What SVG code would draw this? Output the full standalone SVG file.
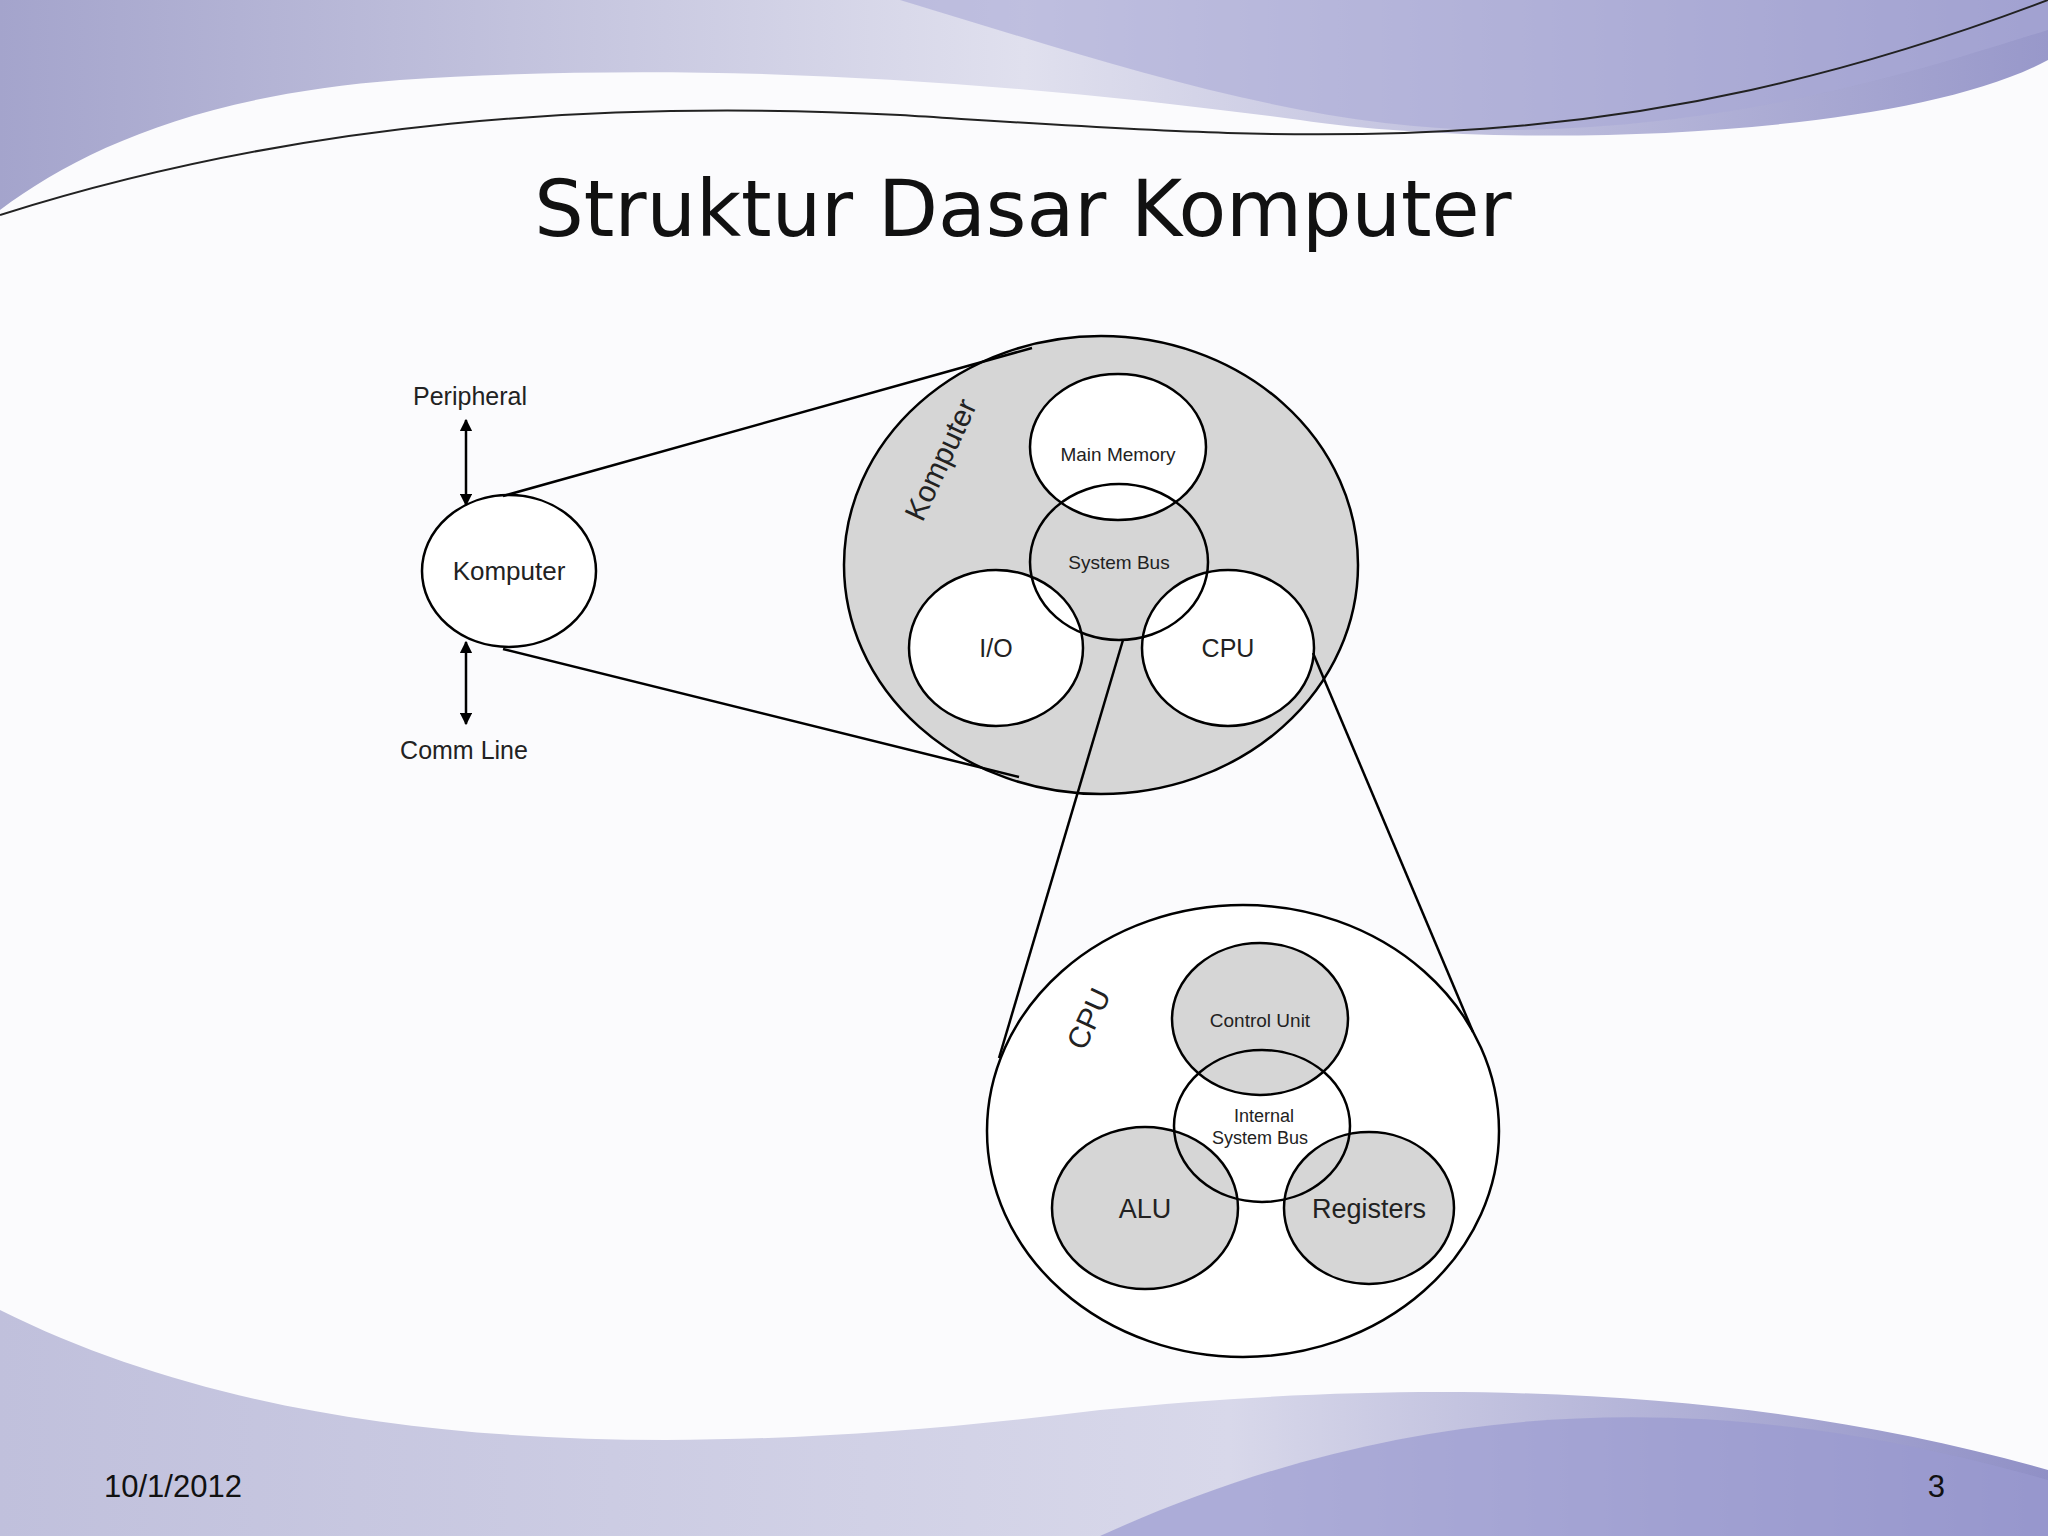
<svg xmlns="http://www.w3.org/2000/svg" width="2048" height="1536" viewBox="0 0 2048 1536">
<defs>
<linearGradient id="top" x1="0" y1="0" x2="1" y2="0"><stop offset="0" stop-color="#a4a4cc"/><stop offset="0.5" stop-color="#e0e0ee"/><stop offset="1" stop-color="#9898ca"/></linearGradient>
<linearGradient id="bot" x1="0" y1="0" x2="1" y2="0"><stop offset="0" stop-color="#c0c0dc"/><stop offset="0.6" stop-color="#d8d8ea"/><stop offset="1" stop-color="#9090c6"/></linearGradient>
<marker id="ah" viewBox="0 0 10 10" refX="9" refY="5" markerWidth="5" markerHeight="5" orient="auto-start-reverse"><path d="M0,0 L10,5 L0,10 z" fill="#000"/></marker>
</defs>
<style>
.t{font-family:"Liberation Sans",Arial,sans-serif;fill:#222}
.c{stroke:#000;stroke-width:2.5}
.g{fill:#d6d6d6}.w{fill:#fff}.n{fill:none}
.l{stroke:#000;stroke-width:2.5;fill:none}
</style>
<rect width="2048" height="1536" fill="#fbfbfd"/>
<path d="M0,0 H2048 V60 C1900,140 1500,150 1300,120 C1000,80 700,60 400,80 C200,95 80,150 0,210 Z" fill="url(#top)"/>
<path d="M900,0 C1100,60 1300,130 1500,130 C1750,130 1950,60 2048,30 V0 Z" fill="#a8a8d6" opacity="0.6"/>
<path d="M0,215 C300,120 600,100 900,115 C1300,140 1600,170 2048,0" stroke="#222" stroke-width="2" fill="none"/>
<path d="M0,1310 C300,1460 700,1460 1100,1410 C1500,1370 1800,1400 2048,1470 V1536 H0 Z" fill="url(#bot)"/>
<path d="M1100,1536 C1400,1400 1700,1380 2048,1480 V1536 Z" fill="#9a9ad0" opacity="0.7"/>
<text x="1023" y="236" text-anchor="middle" font-family="'DejaVu Sans',sans-serif" font-size="78" fill="#111">Struktur Dasar Komputer</text>
<g id="komputer-small"><ellipse class="c w" cx="509" cy="571" rx="87" ry="76"/><text class="t" x="509" y="580" text-anchor="middle" font-size="26">Komputer</text></g>
<g id="peripheral"><text class="t" x="470" y="405" text-anchor="middle" font-size="25">Peripheral</text></g>
<g id="commline"><text class="t" x="464" y="759" text-anchor="middle" font-size="25">Comm Line</text></g>
<g id="komputer-big"><ellipse class="c g" cx="1101" cy="565" rx="257" ry="229"/><text class="t" x="0" y="0" font-size="30" text-anchor="middle" transform="translate(950,464) rotate(-65)">Komputer</text></g>
<g id="main-memory"><ellipse class="c w" cx="1118" cy="447" rx="88" ry="73"/><text class="t" x="1118" y="461" text-anchor="middle" font-size="19">Main Memory</text></g>
<g id="io"><ellipse class="c w" cx="996" cy="648" rx="87" ry="78"/><text class="t" x="996" y="657" text-anchor="middle" font-size="25">I/O</text></g>
<g id="cpu"><ellipse class="c w" cx="1228" cy="648" rx="86" ry="78"/><text class="t" x="1228" y="657" text-anchor="middle" font-size="25">CPU</text></g>
<g id="system-bus"><ellipse class="c n" cx="1119" cy="562" rx="89" ry="78"/><text class="t" x="1119" y="569" text-anchor="middle" font-size="19">System  Bus</text></g>
<g id="cpu-big"><ellipse class="c w" cx="1243" cy="1131" rx="256" ry="226"/><text class="t" x="0" y="0" font-size="30" text-anchor="middle" transform="translate(1098,1023) rotate(-65)">CPU</text></g>
<g id="control-unit"><ellipse class="c g" cx="1260" cy="1019" rx="88" ry="76"/><text class="t" x="1260" y="1027" text-anchor="middle" font-size="19">Control Unit</text></g>
<g id="alu"><ellipse class="c g" cx="1145" cy="1208" rx="93" ry="81"/><text class="t" x="1145" y="1218" text-anchor="middle" font-size="27">ALU</text></g>
<g id="registers"><ellipse class="c g" cx="1369" cy="1208" rx="85" ry="76"/><text class="t" x="1369" y="1218" text-anchor="middle" font-size="27">Registers</text></g>
<g id="internal-bus"><ellipse class="c n" cx="1262" cy="1126" rx="88" ry="76"/><text class="t" x="1264" y="1122" text-anchor="middle" font-size="18">Internal</text><text class="t" x="1260" y="1144" text-anchor="middle" font-size="18">System Bus</text></g>
<g id="connectors">
<line class="l" x1="503" y1="496" x2="1032" y2="348"/>
<line class="l" x1="503" y1="649" x2="1019" y2="777"/>
<line class="l" x1="1123" y1="640" x2="999" y2="1058"/>
<line class="l" x1="1313" y1="653" x2="1473" y2="1032"/>
<line class="l" x1="466" y1="420" x2="466" y2="505" marker-start="url(#ah)" marker-end="url(#ah)"/>
<line class="l" x1="466" y1="642" x2="466" y2="724" marker-start="url(#ah)" marker-end="url(#ah)"/>
</g>
<text x="104" y="1497" font-family="'Liberation Sans',Arial,sans-serif" font-size="31" fill="#111">10/1/2012</text>
<text x="1945" y="1497" text-anchor="end" font-family="'Liberation Sans',Arial,sans-serif" font-size="31" fill="#111">3</text>
</svg>
